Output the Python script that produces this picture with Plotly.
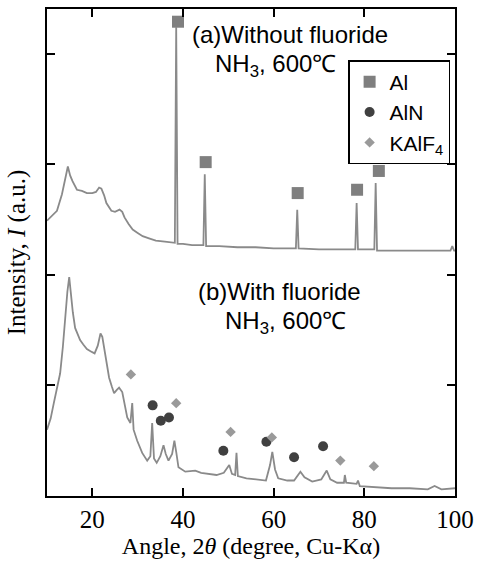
import plotly.graph_objects as go

# ---- data ----
angle_a = [10, 11, 12.2, 13.3, 14.0, 14.6, 15.1, 15.6, 16.6, 17.7, 18.8, 20.0, 20.8, 21.5, 22.0,
           22.6, 23.1, 24.2, 25.0, 26.0, 26.6, 27.1, 28.0, 28.9, 30.0, 31.1, 32.5, 34.0, 36.0,
           38.2, 38.5, 38.8, 40, 42, 44.5, 44.8, 45.1, 48, 52, 56, 60, 64.9, 65.2, 65.5, 70, 74,
           78.0, 78.3, 78.6, 82.2, 82.5, 82.8, 86, 90, 95, 99.0, 99.4, 99.8, 100]
intensity_a = [2.49, 2.53, 2.58, 2.73, 2.88, 2.98, 2.90, 2.85, 2.77, 2.76, 2.74, 2.74, 2.75, 2.79, 2.78,
               2.72, 2.65, 2.58, 2.57, 2.59, 2.57, 2.52, 2.46, 2.41, 2.38, 2.35, 2.33, 2.31, 2.30,
               2.29, 4.24, 2.28, 2.28, 2.27, 2.27, 2.91, 2.26, 2.26, 2.25, 2.25, 2.24, 2.24, 2.59, 2.24, 2.23, 2.23,
               2.23, 2.65, 2.23, 2.23, 2.83, 2.22, 2.22, 2.22, 2.22, 2.22, 2.26, 2.22, 2.22]

angle_b = [10, 10.8, 11.5, 12.3, 12.9, 13.5, 14.0, 14.5, 14.9, 15.3, 15.7, 16.2, 16.8, 17.3, 18.0,
           18.8, 19.6, 20.5, 21.2, 21.8, 22.2, 22.6, 23.2, 23.7, 24.3, 24.8, 25.4, 25.9, 26.6, 27.2,
           27.7, 28.4, 28.8, 29.1, 29.9, 31.0, 32.1, 32.8, 33.2, 33.6, 34.2, 35.0, 35.7, 36.2, 36.8,
           37.6, 38.1, 38.5, 39.0, 40.5, 42.7, 44.0, 45.5, 47.4, 49.0, 50.2, 50.8, 51.5, 51.8, 52.1,
           54, 56, 58.3, 59.2, 59.7, 60.3, 61.0, 63, 64.5, 65.9, 66.8, 68.5, 70.5, 71.7, 72.5, 74,
           75.5, 75.7, 76.0, 78.3, 78.6, 79, 82, 86, 90, 94, 95.5, 97, 100]
intensity_b = [0.60, 0.70, 0.84, 0.98, 1.11, 1.35, 1.62, 1.85, 1.98, 1.80, 1.66, 1.52, 1.45, 1.41, 1.37,
               1.33, 1.31, 1.29, 1.36, 1.47, 1.44, 1.35, 1.18, 1.07, 0.99, 0.93, 0.96, 0.98, 0.94, 0.80,
               0.71, 0.66, 0.84, 0.60, 0.50, 0.39, 0.32, 0.36, 0.66, 0.34, 0.30, 0.36, 0.46, 0.38, 0.32,
               0.38, 0.50, 0.40, 0.26, 0.22, 0.23, 0.21, 0.20, 0.19, 0.21, 0.28, 0.20, 0.19, 0.39, 0.18,
               0.16, 0.15, 0.14, 0.28, 0.40, 0.24, 0.16, 0.14, 0.14, 0.22, 0.17, 0.13, 0.15, 0.23, 0.15, 0.12,
               0.12, 0.19, 0.12, 0.11, 0.14, 0.09, 0.08, 0.07, 0.07, 0.06, 0.09, 0.06, 0.07]

al_x = [38.9, 45.0, 65.3, 78.4, 83.2]
al_y = [4.29, 3.02, 2.74, 2.77, 2.94]
aln_x = [33.3, 35.1, 36.9, 48.9, 58.4, 64.5, 70.9]
aln_y = [0.82, 0.68, 0.71, 0.41, 0.49, 0.35, 0.45]
kalf_x = [28.5, 38.5, 50.5, 59.6, 74.7, 82.1]
kalf_y = [1.10, 0.84, 0.58, 0.53, 0.32, 0.27]

x_ticks = [20, 40, 60, 80, 100]
y_ticks = [1, 2, 3, 4]

LINE = "#8a8a8a"
SERIF = "Liberation Serif"
SANS = "Liberation Sans"

fig = go.Figure()
fig.add_trace(go.Scatter(x=angle_a, y=intensity_a, mode="lines",
                         line=dict(color=LINE, width=1.8), showlegend=False, hoverinfo="skip"))
fig.add_trace(go.Scatter(x=angle_b, y=intensity_b, mode="lines",
                         line=dict(color=LINE, width=1.8), showlegend=False, hoverinfo="skip"))
fig.add_trace(go.Scatter(x=al_x, y=al_y, mode="markers", name="Al",
                         marker=dict(symbol="square", size=12, color="#7f7f7f")))
fig.add_trace(go.Scatter(x=aln_x, y=aln_y, mode="markers", name="AlN",
                         marker=dict(symbol="circle", size=10, color="#404040")))
fig.add_trace(go.Scatter(x=kalf_x, y=kalf_y, mode="markers", name="KAlF<sub>4</sub>",
                         marker=dict(symbol="diamond", size=8, color="#9a9a9a")))

axis_common = dict(showline=True, linecolor="black", linewidth=2, mirror="ticks",
                   ticks="inside", ticklen=8, tickwidth=2, tickcolor="black",
                   showgrid=False, zeroline=False)

fig.update_xaxes(range=[10, 100], tickvals=x_ticks, ticktext=[str(v) for v in x_ticks],
                 tickfont=dict(family=SERIF, size=25, color="black"),
                 title=dict(text="Angle, 2<i>θ</i> (degree, Cu-Kα)",
                            font=dict(family=SERIF, size=24, color="black"), standoff=2),
                 **axis_common)
fig.update_yaxes(range=[0, 4.405], tickvals=y_ticks, showticklabels=False,
                 title=dict(text="Intensity, <i>I</i> (a.u.)",
                            font=dict(family=SERIF, size=25, color="black"), standoff=12),
                 **axis_common)

ann_font = dict(family=SANS, size=24, color="black")
fig.add_annotation(x=63.6, y=4.171, text="(a)Without fluoride", showarrow=False, font=ann_font)
fig.add_annotation(x=60.4, y=3.892, text="NH<sub>3</sub>, 600℃", showarrow=False, font=ann_font)
fig.add_annotation(x=61.2, y=1.847, text="(b)With fluoride", showarrow=False, font=ann_font)
fig.add_annotation(x=62.6, y=1.572, text="NH<sub>3</sub>, 600℃", showarrow=False, font=ann_font)

fig.update_layout(
    width=481, height=561,
    margin=dict(l=47, r=22, t=7, b=65),
    paper_bgcolor="white", plot_bgcolor="white",
    legend=dict(x=0.738, y=0.895, xanchor="left", yanchor="top",
                bordercolor="black", borderwidth=1.5, bgcolor="rgba(255,255,255,0)",
                font=dict(family=SANS, size=21, color="black"),
                itemwidth=30),
)

fig.write_html("out.html", config={"displayModeBar": False},
               post_script="document.body.style.margin='0px';")
